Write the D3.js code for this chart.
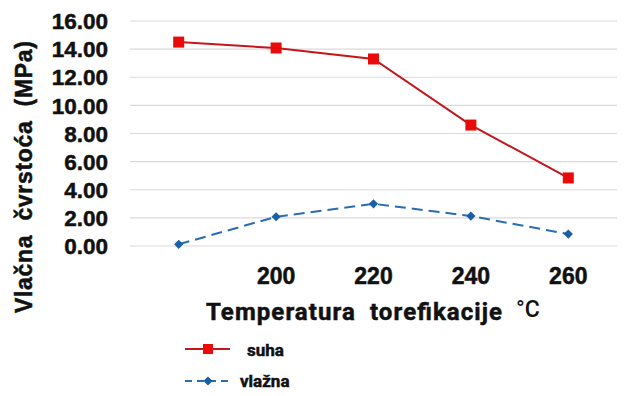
<!DOCTYPE html>
<html>
<head>
<meta charset="utf-8">
<script src="https://cdn.jsdelivr.net/npm/d3@7"></script>
<style>
  body { margin: 0; background: #fff; }
  text { font-family: "Liberation Sans", Arial, sans-serif; font-weight: bold; fill: #111; }
  .heavy { stroke: #111; stroke-width: 0.5px; }
</style>
</head>
<body>
<script>
'use strict';

const categories = ["180", "200", "220", "240", "260"]
const shownLabels = ["", "200", "220", "240", "260"]
const suha = [14.5, 14.08, 13.3, 8.6, 4.84]
const vlazna = [0.12, 2.08, 3.0, 2.13, 0.85]
const yTicks = [0, 2, 4, 6, 8, 10, 12, 14, 16]

const svg = d3.select("body").append("svg")
    .attr("width", 624)
    .attr("height", 396)

const x = d3.scaleBand()
    .domain(categories)
    .range([130, 617])

const y = d3.scaleLinear()
    .domain([0, 16])
    .range([246, 21])

// gridlines
svg.append("g")
    .selectAll("line")
    .data(yTicks)
    .enter()
    .append("line")
    .attr("x1", 130)
    .attr("x2", 617)
    .attr("y1", d => y(d))
    .attr("y2", d => y(d))
    .attr("stroke", "#dadada")
    .attr("stroke-width", 1.2)

// y axis labels
let yAxis = d3.axisLeft(y)
    .tickValues(yTicks)
    .tickFormat(d3.format(".2f"))
    .tickSize(0)
    .tickPadding(0)

svg.append("g")
    .attr("transform", "translate(108,0)")
    .call(yAxis)
    .call(g => g.select(".domain").remove())
    .selectAll("text")
    .attr("class", "heavy")
    .attr("font-size", 22.5)
    .attr("font-family", "Liberation Sans, Arial, sans-serif")
    .attr("font-weight", "bold")
    .attr("fill", "#111")
    .attr("dy", "0.34em")

// x axis labels
let xAxis = d3.axisBottom(x)
    .tickFormat((d, i) => shownLabels[i])
    .tickSize(0)
    .tickPadding(0)

svg.append("g")
    .attr("transform", "translate(0,284)")
    .call(xAxis)
    .call(g => g.select(".domain").remove())
    .selectAll("text")
    .attr("class", "heavy")
    .attr("font-size", 23)
    .attr("font-family", "Liberation Sans, Arial, sans-serif")
    .attr("font-weight", "bold")
    .attr("fill", "#111")
    .attr("dy", 0)

const cx = d => x(d) + x.bandwidth() / 2

const line = d3.line()
    .x((d, i) => cx(categories[i]))
    .y(d => y(d))

// suha
svg.append("path")
    .datum(suha)
    .attr("d", line)
    .attr("fill", "none")
    .attr("stroke", "#c4161c")
    .attr("stroke-width", 2)

svg.selectAll(".sq")
    .data(suha)
    .enter()
    .append("rect")
    .attr("x", (d, i) => cx(categories[i]) - 5.5)
    .attr("y", d => y(d) - 5.5)
    .attr("width", 11)
    .attr("height", 11)
    .attr("fill", "#ea0a0a")

// vlazna
svg.append("path")
    .datum(vlazna)
    .attr("d", line)
    .attr("fill", "none")
    .attr("stroke", "#2a6db3")
    .attr("stroke-width", 2)
    .attr("stroke-dasharray", "11,6")

// diamond = rotated square
const diamond = d3.symbol().type(d3.symbolSquare).size(42)

svg.selectAll(".dm")
    .data(vlazna)
    .enter()
    .append("path")
    .attr("d", diamond)
    .attr("transform", (d, i) => "translate(" + cx(categories[i]) + "," + y(d) + ") rotate(45)")
    .attr("fill", "#1a5ea8")

// axis titles
svg.append("text")
    .attr("class", "heavy")
    .attr("x", 206)
    .attr("y", 320)
    .attr("font-size", 24)
    .style("font-family", "Roboto, sans-serif")
    .attr("xml:space", "preserve")
    .attr("textLength", 296)
    .text("Temperatura  torefikacije")

svg.append("text")
    .attr("x", 516)
    .attr("y", 317)
    .attr("font-size", 23)
    .style("font-family", "Roboto, sans-serif")
    .style("font-weight", "500")
    .text("°C")

svg.append("text")
    .attr("class", "heavy")
    .attr("transform", "translate(32,177) rotate(-90)")
    .attr("text-anchor", "middle")
    .attr("font-size", 23)
    .attr("xml:space", "preserve")
    .attr("textLength", 272)
    .text("Vlačna  čvrstoća  (MPa)")

// legend
svg.append("line")
    .attr("x1", 185).attr("x2", 230)
    .attr("y1", 349).attr("y2", 349)
    .attr("stroke", "#c4161c").attr("stroke-width", 2)
svg.append("rect")
    .attr("x", 203).attr("y", 344)
    .attr("width", 10).attr("height", 10)
    .attr("fill", "#ea0a0a")
svg.append("text")
    .attr("class", "heavy")
    .attr("x", 247).attr("y", 356)
    .attr("font-size", 17)
    .style("font-family", "Roboto, sans-serif")
    .text("suha")

svg.append("line")
    .attr("x1", 185).attr("x2", 232)
    .attr("y1", 381).attr("y2", 381)
    .attr("stroke", "#2a6db3").attr("stroke-width", 2)
    .attr("stroke-dasharray", "7,5")
svg.append("path")
    .attr("d", diamond)
    .attr("transform", "translate(208,381) rotate(45)")
    .attr("fill", "#1a5ea8")
svg.append("text")
    .attr("class", "heavy")
    .attr("x", 240).attr("y", 387)
    .attr("font-size", 17)
    .style("font-family", "Roboto, sans-serif")
    .text("vlažna")
</script>
</body>
</html>
